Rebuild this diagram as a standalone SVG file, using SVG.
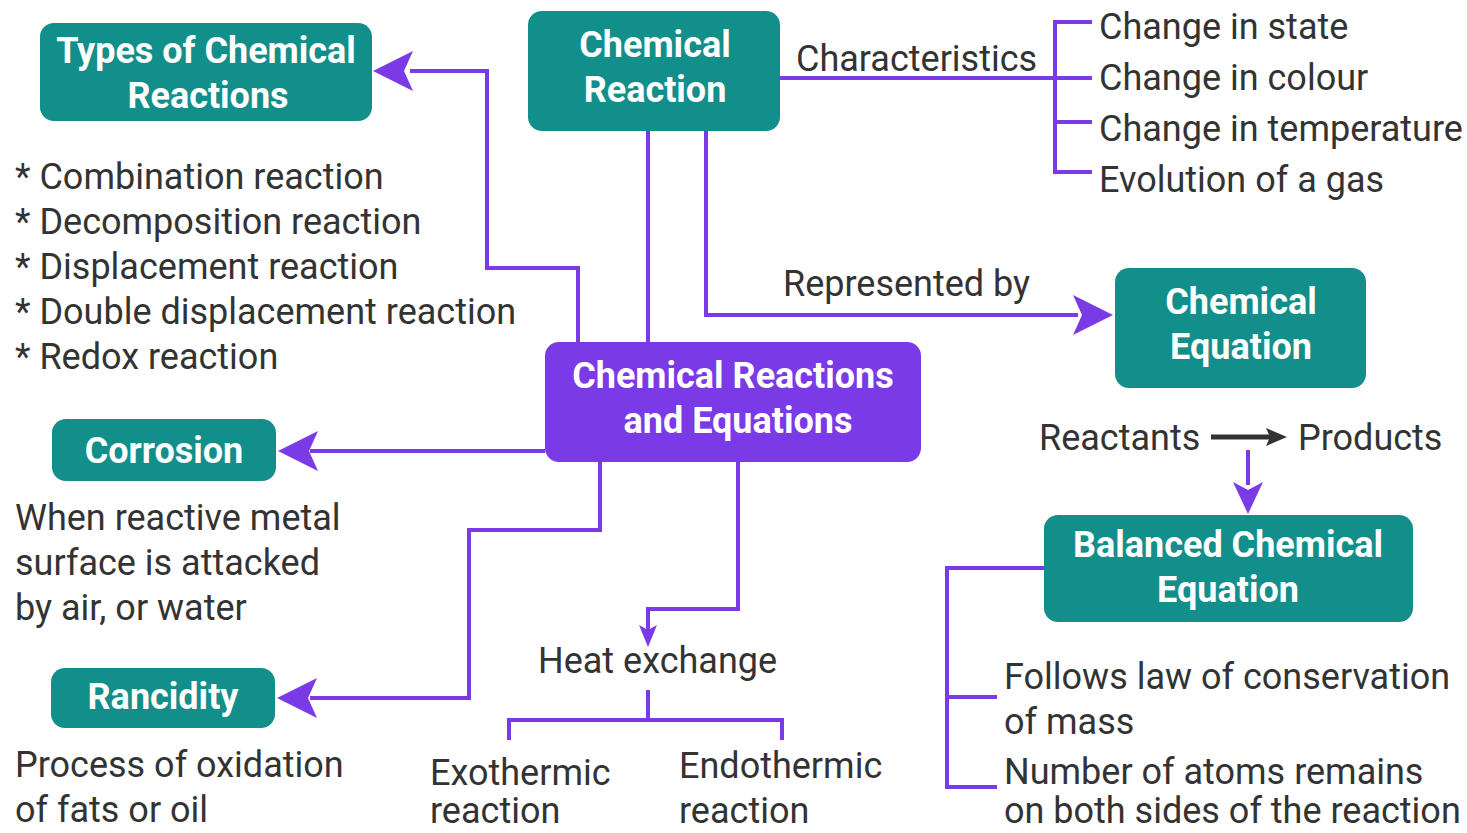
<svg xmlns="http://www.w3.org/2000/svg" width="1467" height="833" viewBox="0 0 1467 833">
<style>
.teal{fill:#138f8b}
.purp{fill:#7a3ae6}
.nt{font-family:Roboto,"Liberation Sans",sans-serif;font-weight:bold;font-size:36px;fill:#fff;text-anchor:middle}
.t{font-family:Roboto,"Liberation Sans",sans-serif;font-size:36px;fill:#333}
.c{fill:none;stroke:#7a3ae6;stroke-width:4}
.ah{fill:#7a3ae6}
</style>
<rect width="1467" height="833" fill="#fff"/>
<g id="connectors">
<path class="c" d="M648,131 V342"/>
<path class="c" d="M706,131 V315 H1078"/>
<path d="M1113,315 L1073,295 L1082,315 L1073,335 z" class="ah"/>
<path class="c" d="M780,78 H1055"/>
<path class="c" d="M1092,22 H1055 V172 H1092 M1055,122 H1092 M1055,78 H1092"/>
<path class="c" d="M578,342 V268 H487 V71 H410"/>
<path d="M373,71 L413,51 L404,71 L413,91 z" class="ah"/>
<path class="c" d="M545,451 H310"/>
<path d="M278,451 L318,431 L309,451 L318,471 z" class="ah"/>
<path class="c" d="M600,462 V530 H469 V698 H310"/>
<path d="M277,698 L317,678 L308,698 L317,718 z" class="ah"/>
<path class="c" d="M738,462 V609 H648 V630"/>
<path d="M648,647 L639,625 L648,630 L657,625 z" class="ah"/>
<path class="c" d="M648,690 V720 M509,740 V720 H782 V740"/>
<path d="M1211,437 H1270" stroke="#333" stroke-width="5" fill="none"/>
<path d="M1287,437 L1266,428 L1270,437 L1266,446 z" fill="#333"/>
<path class="c" d="M1248,450 V485"/>
<path d="M1248,514 L1233,482 L1248,490 L1263,482 z" class="ah"/>
<path class="c" d="M1044,568 H947 V787 H997 M947,697 H997"/>
</g>
<g id="types">
<rect class="teal" x="40" y="23" width="332" height="98" rx="14"/>
<text class="nt" x="206" y="63">Types of Chemical</text>
<text class="nt" x="208" y="108">Reactions</text>
</g>
<g id="chemical-reaction">
<rect class="teal" x="528" y="11" width="252" height="120" rx="14"/>
<text class="nt" x="655" y="57">Chemical</text>
<text class="nt" x="655" y="102">Reaction</text>
</g>
<g id="center">
<rect class="purp" x="545" y="342" width="376" height="120" rx="14"/>
<text class="nt" x="733" y="388">Chemical Reactions</text>
<text class="nt" x="738" y="433">and Equations</text>
</g>
<g id="chemical-equation">
<rect class="teal" x="1115" y="268" width="251" height="120" rx="14"/>
<text class="nt" x="1241" y="314">Chemical</text>
<text class="nt" x="1241" y="359">Equation</text>
</g>
<g id="balanced">
<rect class="teal" x="1044" y="515" width="369" height="107" rx="14"/>
<text class="nt" x="1228" y="557">Balanced Chemical</text>
<text class="nt" x="1228" y="602">Equation</text>
</g>
<g id="corrosion">
<rect class="teal" x="52" y="419" width="224" height="62" rx="14"/>
<text class="nt" x="164" y="463">Corrosion</text>
</g>
<g id="rancidity">
<rect class="teal" x="51" y="668" width="224" height="60" rx="14"/>
<text class="nt" x="163" y="709">Rancidity</text>
</g>
<g id="texts">
<text class="t" x="796" y="71">Characteristics</text>
<text class="t" x="1099" y="39">Change in state</text>
<text class="t" x="1099" y="90">Change in colour</text>
<text class="t" x="1099" y="141">Change in temperature</text>
<text class="t" x="1099" y="192">Evolution of a gas</text>
<text class="t" x="15" y="189">* Combination reaction</text>
<text class="t" x="15" y="234">* Decomposition reaction</text>
<text class="t" x="15" y="279">* Displacement reaction</text>
<text class="t" x="15" y="324">* Double displacement reaction</text>
<text class="t" x="15" y="369">* Redox reaction</text>
<text class="t" x="783" y="296">Represented by</text>
<text class="t" x="1039" y="450">Reactants</text>
<text class="t" x="1298" y="450">Products</text>
<text class="t" x="15" y="530">When reactive metal</text>
<text class="t" x="15" y="575">surface is attacked</text>
<text class="t" x="15" y="620">by air, or water</text>
<text class="t" x="15" y="777">Process of oxidation</text>
<text class="t" x="15" y="822">of fats or oil</text>
<text class="t" x="430" y="785" dy="0">Exothermic</text>
<text class="t" x="430" y="823">reaction</text>
<text class="t" x="538" y="673">Heat exchange</text>
<text class="t" x="679" y="778">Endothermic</text>
<text class="t" x="679" y="823">reaction</text>
<text class="t" x="1004" y="689">Follows law of conservation</text>
<text class="t" x="1004" y="734">of mass</text>
<text class="t" x="1004" y="784">Number of atoms remains</text>
<text class="t" x="1004" y="823">on both sides of the reaction</text>
</g>
</svg>
